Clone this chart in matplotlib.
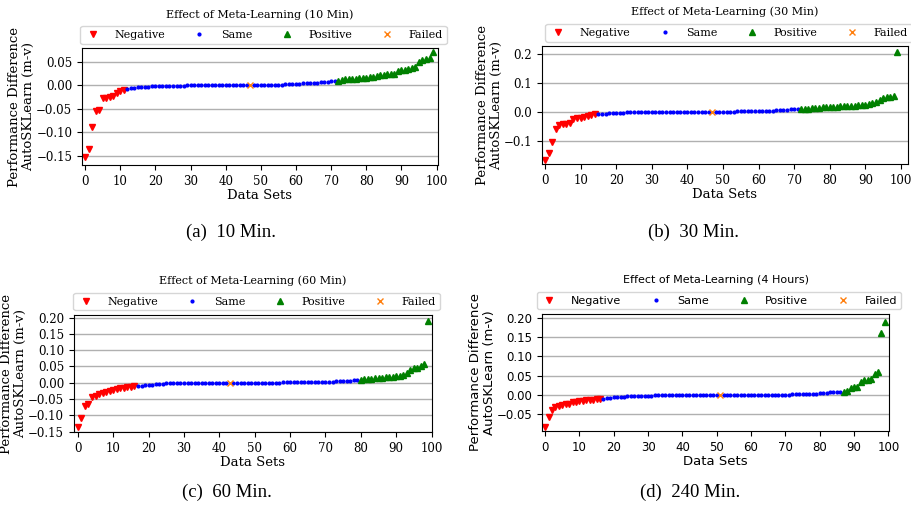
# Effect of meta-learning on AutoSKLearn, four time budgets

import numpy as np
import matplotlib
matplotlib.use('Agg')
from matplotlib import pyplot as plt
from matplotlib.ticker import MultipleLocator

# --- 10 Min ---
neg_a = [-0.153, -0.136, -0.089, -0.055, -0.053, -0.027, -0.026, -0.025, -0.022, -0.016, -0.011, -0.010]
same_a = [-0.008, -0.006, -0.005, -0.004, -0.004, -0.003, -0.003, -0.002, -0.002, -0.001,
          -0.001, -0.001, -0.001, -0.001, -0.001, -0.001, -0.001,
          0.000, 0.000, 0.000, 0.000, 0.000, 0.000, 0.000, 0.000, 0.000, 0.000, 0.000, 0.000,
          0.000, 0.000, 0.000, 0.000, 0.000, 0.000,
          0.000, 0.000, 0.000, 0.000, 0.000, 0.001, 0.001, 0.001, 0.001,
          0.002, 0.002, 0.003, 0.003, 0.003, 0.004, 0.004, 0.004, 0.005, 0.005, 0.006, 0.007,
          0.008, 0.009, 0.010]
pos_a = [0.010, 0.012, 0.013, 0.013, 0.014, 0.014, 0.015, 0.015, 0.016, 0.017, 0.018, 0.020,
         0.021, 0.022, 0.023, 0.024, 0.025, 0.030, 0.032, 0.033, 0.034, 0.036, 0.039, 0.050,
         0.054, 0.056, 0.058, 0.071]
failed_a = 47

# --- 30 Min ---
neg_b = [-0.165, -0.143, -0.105, -0.060, -0.045, -0.043, -0.041, -0.039, -0.026, -0.023,
         -0.021, -0.019, -0.013, -0.010, -0.008]
same_b = [-0.008, -0.007, -0.006, -0.005, -0.004, -0.004, -0.003, -0.003, -0.002, -0.002,
          -0.001, -0.001, -0.001, -0.001, -0.001, -0.001, -0.001, -0.001,
          0.000, 0.000, 0.000, 0.000, 0.000, 0.000, 0.000, 0.000, 0.000, 0.000, 0.000, 0.000,
          0.000, 0.000,
          0.000, 0.000, 0.000, 0.000, 0.000, 0.000, 0.001, 0.001, 0.001, 0.001, 0.001,
          0.002, 0.002, 0.002, 0.003, 0.003, 0.004, 0.005, 0.005, 0.006, 0.007, 0.008,
          0.009, 0.010]
pos_b = [0.010, 0.011, 0.011, 0.012, 0.013, 0.014, 0.015, 0.015, 0.016, 0.017, 0.018, 0.019,
         0.019, 0.020, 0.021, 0.021, 0.022, 0.022, 0.023, 0.026, 0.030, 0.033, 0.040, 0.046,
         0.050, 0.052, 0.053, 0.205]
failed_b = 47

# --- 60 Min ---
neg_c = [-0.136, -0.108, -0.072, -0.066, -0.043, -0.040, -0.035, -0.030, -0.027, -0.024,
         -0.021, -0.019, -0.017, -0.015, -0.013, -0.012, -0.011]
same_c = [-0.010, -0.009, -0.008, -0.007, -0.006, -0.005, -0.004, -0.003, -0.002,
          -0.002, -0.002, -0.002, -0.001, -0.001, -0.001, -0.001, -0.001, -0.001,
          0.000, 0.000, 0.000, 0.000, 0.000, 0.000, 0.000, 0.000,
          0.000, 0.000, 0.000, 0.000, 0.000, 0.000, 0.000, 0.000, 0.000, 0.000, 0.000, 0.000,
          0.000, 0.000, 0.001, 0.001, 0.001, 0.001, 0.001, 0.001, 0.001, 0.001,
          0.002, 0.002, 0.002, 0.002, 0.003, 0.003, 0.003, 0.004, 0.005, 0.005, 0.006, 0.007,
          0.008, 0.009]
pos_c = [0.010, 0.011, 0.012, 0.013, 0.014, 0.015, 0.016, 0.017, 0.018, 0.019, 0.020, 0.021,
         0.024, 0.030, 0.040, 0.044, 0.046, 0.050, 0.057, 0.190]
failed_c = 43

# --- 4 Hours ---
neg_d = [-0.082, -0.056, -0.038, -0.032, -0.028, -0.025, -0.023, -0.022, -0.019, -0.017,
         -0.016, -0.015, -0.014, -0.013, -0.012, -0.011, -0.010]
same_d = [-0.009, -0.008, -0.007, -0.006, -0.005, -0.004, -0.004, -0.003, -0.003,
          -0.002, -0.002, -0.002, -0.002, -0.002, -0.002,
          -0.001, -0.001, -0.001, -0.001, -0.001, -0.001, -0.001, -0.001, -0.001,
          0.000, 0.000, 0.000, 0.000, 0.000, 0.000, 0.000, 0.000, 0.000, 0.000,
          0.000, 0.000, 0.000, 0.000, 0.000, 0.000, 0.000, 0.000, 0.000, 0.000,
          0.001, 0.001, 0.001, 0.001, 0.001, 0.001, 0.001, 0.001, 0.001, 0.001,
          0.002, 0.002, 0.002, 0.002, 0.002, 0.003, 0.003, 0.003,
          0.004, 0.005, 0.006, 0.007, 0.008, 0.008, 0.009]
pos_d = [0.008, 0.010, 0.018, 0.022, 0.022, 0.035, 0.038, 0.040, 0.042, 0.055, 0.060, 0.160, 0.188]
failed_d = 51

titles = ['Effect of Meta-Learning (10 Min)', 'Effect of Meta-Learning (30 Min)',
          'Effect of Meta-Learning (60 Min)', 'Effect of Meta-Learning (4 Hours)']
captions = ['(a)  10 Min.', '(b)  30 Min.', '(c)  60 Min.', '(d)  240 Min.']
labels = ['Negative', 'Same', 'Positive', 'Failed']


def draw(ax, neg, same, pos, failed, title, family, ystep):
    """INPUT
         ax     := axes to draw on
         neg    := sorted negative differences
         same   := differences counted as the same (failed slot left out)
         pos    := sorted positive differences
         failed := index of the failed data set
    """
    n_neg = len(neg)
    x_neg = np.arange(n_neg)
    x_same = np.arange(n_neg, n_neg + len(same) + 1)
    x_same = x_same[x_same != failed]
    x_pos = np.arange(n_neg + len(same) + 1, n_neg + len(same) + 1 + len(pos))

    ax.plot(x_neg, neg, 'v', color='red', ms=5, label=labels[0])
    ax.plot(x_same, same, '.', color='blue', ms=4, label=labels[1])
    ax.plot(x_pos, pos, '^', color='green', ms=5, label=labels[2])
    ax.plot([failed], [0.0], 'x', color='#ff7f0e', ms=4.5, label=labels[3])

    ax.yaxis.grid(True, color='#b0b0b0', lw=1)
    ax.set_axisbelow(True)
    ax.set_xticks(np.arange(0, 101, 10))
    ax.yaxis.set_major_locator(MultipleLocator(ystep))
    ax.tick_params(labelsize=8.5, length=3.5)
    for t in ax.get_xticklabels() + ax.get_yticklabels():
        t.set_family(family)
    ax.set_xlabel('Data Sets', fontsize=9.5, family=family, labelpad=1)
    ax.set_ylabel('Performance Difference\nAutoSKLearn (m-v)', fontsize=9.5, family=family,
                  labelpad=0.5, linespacing=1.1)
    ax.set_title(title, fontsize=8, family=family, pad=22)
    ax.legend(loc='lower center', bbox_to_anchor=(0.51, 1.01), ncol=4,
              prop={'family': family, 'size': 8}, columnspacing=2.35, handletextpad=1.2,
              borderpad=0.35, handlelength=1.5, borderaxespad=0.3)


fig = plt.figure(figsize=(9.12, 5.07), dpi=100)
ax_a = fig.add_axes([0.0899, 0.6746, 0.3903, 0.2301])
ax_b = fig.add_axes([0.5943, 0.6765, 0.4013, 0.2327])
ax_c = fig.add_axes([0.0811, 0.1479, 0.3925, 0.2308])
ax_d = fig.add_axes([0.5943, 0.1499, 0.3805, 0.2308])

draw(ax_a, neg_a, same_a, pos_a, failed_a, titles[0], 'DejaVu Serif', 0.05)
draw(ax_b, neg_b, same_b, pos_b, failed_b, titles[1], 'DejaVu Serif', 0.1)
draw(ax_c, neg_c, same_c, pos_c, failed_c, titles[2], 'DejaVu Serif', 0.05)
draw(ax_d, neg_d, same_d, pos_d, failed_d, titles[3], 'DejaVu Sans', 0.05)

ax_a.set_xlim(-0.9, 100.4)
ax_a.set_ylim(-0.169, 0.0785)
ax_b.set_xlim(-0.85, 102)
ax_b.set_ylim(-0.180, 0.2265)
ax_c.set_xlim(-1.1, 100.1)
ax_c.set_ylim(-0.151, 0.208)
ax_d.set_xlim(-0.9, 100.2)
ax_d.set_ylim(-0.093, 0.2096)

# sub-figure captions
cap_pos = [(0.253, 0.542), (0.760, 0.542), (0.249, 0.029), (0.757, 0.029)]
for (cx, cy), cap in zip(cap_pos, captions):
    fig.text(cx, cy, cap, ha='center', va='center', fontsize=13.5, family='Liberation Serif')

fig.savefig('out.png', dpi=100)
